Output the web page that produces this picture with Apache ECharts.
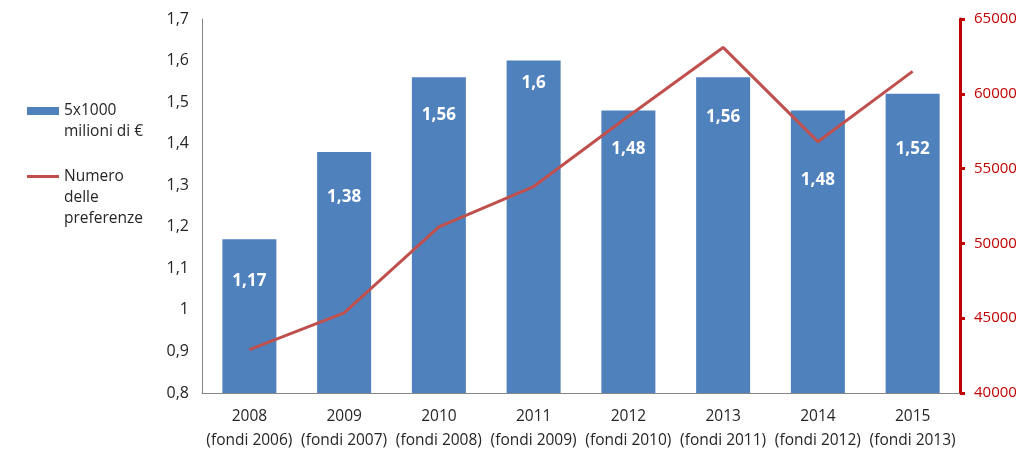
<!DOCTYPE html>
<html><head><meta charset="utf-8">
<script src="https://cdn.jsdelivr.net/npm/echarts@6/dist/echarts.min.js"></script>
<style>html,body{margin:0;padding:0;background:#fff}#c{width:1023px;height:454px}</style>
</head><body><div id="c"></div>
<script>
const categories = ['2008\n(fondi 2006)','2009\n(fondi 2007)','2010\n(fondi 2008)','2011\n(fondi 2009)','2012\n(fondi 2010)','2013\n(fondi 2011)','2014\n(fondi 2012)','2015\n(fondi 2013)'];
const fondi = [1.17, 1.38, 1.56, 1.6, 1.48, 1.56, 1.48, 1.52];
const preferenze = [42900, 45350, 51100, 53800, 58500, 63100, 56800, 61500];
const leftTicks = {min: 0.8, max: 1.7, interval: 0.1};
const rightTicks = {min: 40000, max: 65000, interval: 5000};
const seriesNames = ['5x1000 milioni di €', 'Numero delle preferenze'];
const legendTexts = ['5x1000\nmilioni di €', 'Numero\ndelle\npreferenze'];

// label distance from bar top (layout only)
const labelDist = [33, 37, 29, 14, 30, 31, 61, 47];

const fmt = v => String(Math.round(v*100)/100).replace('.', ',');
const font = 'Open Sans, Liberation Sans, sans-serif';
const txt = '#262626';
const chart = echarts.init(document.getElementById('c'));
chart.setOption({
  animation: false,
  textStyle: {fontFamily: font},
  grid: {left: 202, right: 63, top: 19, bottom: 61},
  legend: [{
    orient: 'vertical', left: 27, top: 100, padding: 0,
    itemWidth: 32, itemHeight: 42,
    textStyle: {fontSize: 15.5, color: txt, lineHeight: 21, fontFamily: font},
    formatter: () => legendTexts[0],
    data: [{name: seriesNames[0], icon: 'path://M0,0H0.01V0.01H0Z M0,7H32V15H0Z M0,42H0.01V42.01H0Z'}]
  }, {
    orient: 'vertical', left: 27, top: 166, padding: 0,
    itemWidth: 32, itemHeight: 63,
    textStyle: {fontSize: 15.5, color: txt, lineHeight: 21, fontFamily: font},
    formatter: () => legendTexts[1],
    data: [{name: seriesNames[1], icon: 'path://M0,0H0.01V0.01H0Z M0,9H32V12H0Z M0,63H0.01V63.01H0Z'}]
  }],
  xAxis: {
    type: 'category', data: categories,
    axisLine: {lineStyle: {color: '#868686'}},
    axisTick: {show: false},
    axisLabel: {fontSize: 15.5, color: txt, lineHeight: 24, margin: 12, interval: 0}
  },
  yAxis: [{
    type: 'value', min: leftTicks.min, max: leftTicks.max, interval: leftTicks.interval,
    splitLine: {show: false},
    axisLine: {show: true, lineStyle: {color: '#868686'}},
    axisTick: {show: false},
    axisLabel: {fontSize: 16, color: txt, margin: 13, formatter: fmt}
  }, {
    type: 'value', min: rightTicks.min, max: rightTicks.max, interval: rightTicks.interval,
    splitLine: {show: false},
    axisLine: {show: true, lineStyle: {color: '#C00000', width: 3}},
    axisTick: {show: true, length: 5, lineStyle: {color: '#C00000', width: 3}},
    axisLabel: {fontSize: 15, color: '#C00000', margin: 14, formatter: v => String(v)}
  }],
  series: [{
    name: seriesNames[0], type: 'bar', barWidth: '57%',
    itemStyle: {color: '#4F81BD'},
    data: fondi.map((v, i) => ({value: v, label: {distance: labelDist[i]}})),
    label: {show: true, position: 'insideTop', color: '#fff', fontWeight: 'bold', fontSize: 17, formatter: p => fmt(p.value)}
  }, {
    name: seriesNames[1], type: 'line', yAxisIndex: 1,
    data: preferenze, symbol: 'none',
    lineStyle: {color: '#C0504D', width: 3},
    itemStyle: {color: '#C0504D'}
  }]
});
</script></body></html>
